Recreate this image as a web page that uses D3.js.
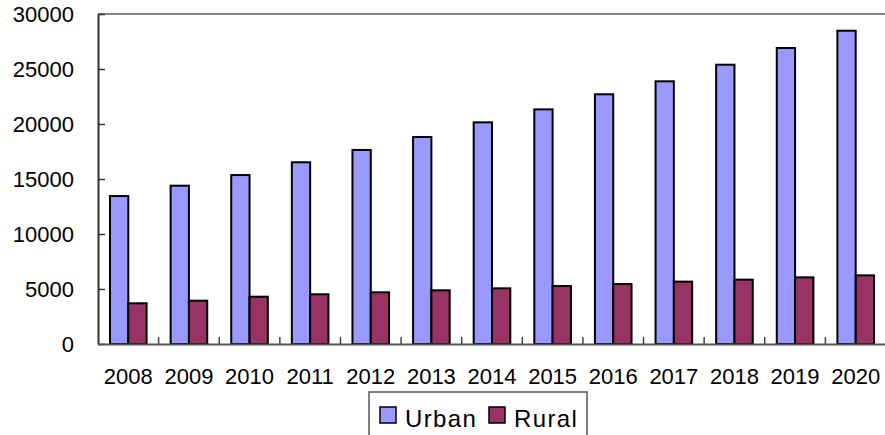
<!DOCTYPE html>
<html>
<head>
<meta charset="utf-8">
<script src="https://cdn.jsdelivr.net/npm/d3@7"></script>
<style>
  html, body { margin: 0; padding: 0; background: #fff; }
  svg { display: block; }
  text { font-family: "Liberation Sans", Arial, sans-serif; fill: #000; }
</style>
</head>
<body>
<div id="chart"></div>
<script>
// data
const years = ['2008', '2009', '2010', '2011', '2012', '2013', '2014', '2015', '2016', '2017', '2018', '2019', '2020'];
const urban = [13450, 14390, 15360, 16520, 17640, 18820, 20150, 21330, 22700, 23880, 25390, 26910, 28480];
const rural = [3700, 3940, 4300, 4520, 4700, 4880, 5060, 5270, 5450, 5670, 5850, 6060, 6240];
const yTicks = [0, 5000, 10000, 15000, 20000, 25000, 30000];
const seriesNames = ['Urban', 'Rural'];
const seriesColors = ['#9999ff', '#993366'];

const width = 885, height = 435;
const plot = { left: 98, right: 886, top: 14, bottom: 344 };

const svg = d3.select('#chart')
    .append('svg')
    .attr('width', width)
    .attr('height', height);

const x = d3.scaleBand()
    .domain(years)
    .range([plot.left, plot.right])
    .paddingInner(0)
    .paddingOuter(0);

const y = d3.scaleLinear()
    .domain([0, 30000])
    .range([plot.bottom, plot.top]);

const barW = x.bandwidth() * 0.302;
const offset = (x.bandwidth() - 2 * barW) / 2;

// top border of plot area
svg.append('line')
    .attr('x1', plot.left).attr('x2', plot.right)
    .attr('y1', y(30000)).attr('y2', y(30000))
    .attr('stroke', '#858585')
    .attr('stroke-width', 2);

// bars
const rows = years.map((yr, i) => ({ year: yr, values: [urban[i], rural[i]] }));

const groups = svg.selectAll('g.year')
    .data(rows)
    .enter()
    .append('g')
    .attr('class', 'year');

groups.selectAll('rect')
    .data(d => d.values.map((v, k) => ({ year: d.year, v, k })))
    .enter()
    .append('rect')
    .attr('x', d => x(d.year) + offset + d.k * barW)
    .attr('y', d => y(d.v))
    .attr('width', barW)
    .attr('height', d => y(0) - y(d.v))
    .attr('fill', d => seriesColors[d.k])
    .attr('stroke', '#000')
    .attr('stroke-width', 2);

// y axis
const yAxis = d3.axisLeft(y)
    .tickValues(yTicks)
    .tickSizeInner(-7)
    .tickSizeOuter(0)
    .tickPadding(24)
    .tickFormat(d3.format('d'));

const gy = svg.append('g')
    .attr('transform', `translate(${plot.left},0)`)
    .call(yAxis);
gy.select('.domain').attr('stroke', '#333').attr('stroke-width', 2);
gy.selectAll('.tick line').attr('stroke', '#333').attr('stroke-width', 1.5);
gy.selectAll('.tick text')
    .attr('font-size', 22)
    .attr('font-family', '"Liberation Sans", Arial, sans-serif')
    .attr('fill', '#000');

// x axis
const xAxis = d3.axisBottom(x)
    .tickSize(0)
    .tickPadding(24);

const gx = svg.append('g')
    .attr('transform', `translate(0,${plot.bottom})`)
    .call(xAxis);
gx.select('.domain').attr('stroke', '#555').attr('stroke-width', 2);
gx.selectAll('.tick text')
    .attr('font-size', 22)
    .attr('font-family', '"Liberation Sans", Arial, sans-serif')
    .attr('fill', '#000');

// tick marks between categories
gx.selectAll('line.sep')
    .data(years.slice(1))
    .enter()
    .append('line')
    .attr('class', 'sep')
    .attr('x1', d => x(d)).attr('x2', d => x(d))
    .attr('y1', 0).attr('y2', -7)
    .attr('stroke', '#444')
    .attr('stroke-width', 1.5);

// legend
const legend = svg.append('g').attr('transform', 'translate(369,392)');
legend.append('rect')
    .attr('x', 0).attr('y', 0)
    .attr('width', 218).attr('height', 60)
    .attr('fill', '#fff')
    .attr('stroke', '#555')
    .attr('stroke-width', 1.5);

const itemX = [11, 120];
seriesNames.forEach((name, k) => {
    legend.append('rect')
        .attr('x', itemX[k]).attr('y', 15)
        .attr('width', 16).attr('height', 16)
        .attr('fill', seriesColors[k])
        .attr('stroke', '#000')
        .attr('stroke-width', 1.5);
    legend.append('text')
        .attr('x', itemX[k] + 25)
        .attr('y', 35)
        .attr('font-size', 24)
        .attr('letter-spacing', 1.4)
        .text(name);
});
</script>
</body>
</html>
